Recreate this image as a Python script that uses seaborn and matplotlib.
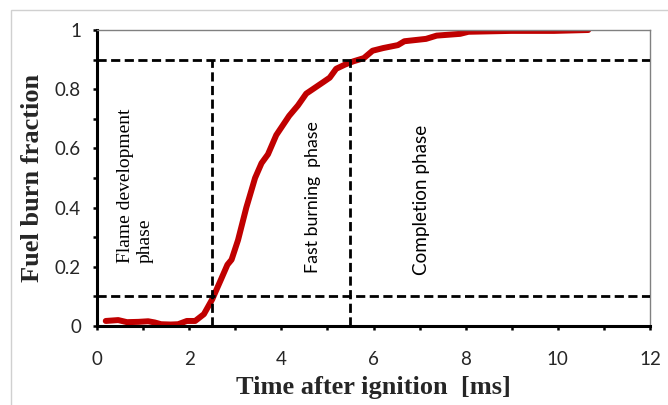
import matplotlib
matplotlib.use("Agg")
import matplotlib.pyplot as plt
import seaborn as sns
import pandas as pd
from matplotlib.ticker import MultipleLocator
from matplotlib.patches import Rectangle

# Data
time_ms = [0.19, 0.46, 0.65, 0.9, 1.11, 1.25, 1.39, 1.6, 1.76, 1.95, 2.13, 2.32, 2.5,
           2.69, 2.83, 2.92, 3.06, 3.24, 3.43, 3.57, 3.71, 3.89, 4.17, 4.36, 4.54,
           4.73, 4.91, 5.05, 5.19, 5.38, 5.56, 5.79, 5.98, 6.21, 6.53, 6.67, 7.14,
           7.37, 7.88, 8.06, 8.99, 9.92, 10.66]
burn_fraction = [0.017, 0.02, 0.013, 0.014, 0.016, 0.012, 0.006, 0.005, 0.006, 0.017, 0.017,
                 0.04, 0.09, 0.157, 0.207, 0.224, 0.29, 0.40, 0.50, 0.55, 0.58, 0.645,
                 0.71, 0.745, 0.785, 0.805, 0.824, 0.839, 0.869, 0.883, 0.894, 0.905,
                 0.93, 0.939, 0.949, 0.962, 0.970, 0.981, 0.987, 0.994, 0.997, 0.997, 1.0]
fraction_thresholds = [0.1, 0.9]
phase_boundaries = [2.5, 5.5]
phase_labels = ["Flame development\nphase", "Fast burning  phase", "Completion phase"]
phase_label_x = [0.84, 4.69, 7.05]
phase_label_y = [0.213, 0.179, 0.172]
x_ticks = [0, 2, 4, 6, 8, 10, 12]
y_ticks = [0, 0.2, 0.4, 0.6, 0.8, 1.0]
y_tick_labels = ["0", "0.2", "0.4", "0.6", "0.8", "1"]

df = pd.DataFrame({"t": time_ms, "f": burn_fraction})

sns.set_theme(style="white")
plt.rcParams["font.family"] = ["Lato", "DejaVu Sans"]

fig = plt.figure(figsize=(6.68, 4.05), dpi=100)
ax = fig.add_axes([97/668, 1-326/405, (650-97)/668, (326-30)/405])

# figure border like the Excel chart area
fig.patches.append(Rectangle((11/668, -0.1), 1.2, 1-10/405+0.1, transform=fig.transFigure,
                             fill=False, edgecolor="#d0d0d0", linewidth=1.0))

sns.lineplot(data=df, x="t", y="f", ax=ax, color="#C00000", linewidth=4.3,
             solid_capstyle="round", solid_joinstyle="round", zorder=2)

dash_kw = dict(color="black", linewidth=2.0, dashes=(3.3, 1.6), zorder=3)
for yv in fraction_thresholds:
    ax.axhline(yv, xmin=0, xmax=1, **dash_kw)
for xv in phase_boundaries:
    ax.plot([xv, xv], [0, fraction_thresholds[1]], **dash_kw)

ax.set_xlim(0, 12)
ax.set_ylim(0, 1)
ax.set_xticks(x_ticks)
ax.set_xticklabels([str(v) for v in x_ticks])
ax.set_yticks(y_ticks)
ax.set_yticklabels(y_tick_labels)
ax.xaxis.set_minor_locator(MultipleLocator(1))
ax.yaxis.set_minor_locator(MultipleLocator(0.1))
ax.tick_params(axis="both", which="both", direction="out", length=3, width=1.8,
               color="black", labelsize=13.5, bottom=True, left=True)
ax.tick_params(axis="x", which="major", pad=15)
ax.tick_params(axis="y", which="major", pad=8.5)

for s in ["left", "bottom"]:
    ax.spines[s].set_color("black")
    ax.spines[s].set_linewidth(2.2)
for s in ["top", "right"]:
    ax.spines[s].set_color("#808080")
    ax.spines[s].set_linewidth(1.0)

ax.set_xlabel("Time after ignition  [ms]", fontsize=19, fontweight="bold",
              family="Liberation Serif", labelpad=6)
ax.set_ylabel("Fuel burn fraction", fontsize=19, fontweight="bold",
              family="Liberation Serif", labelpad=8)

families = ["Liberation Serif", "Lato", "Lato"]
sizes = [14, 12.8, 13.6]
for lab, xv, yv, fam, fs in zip(phase_labels, phase_label_x, phase_label_y, families, sizes):
    ax.text(xv, yv, lab, rotation=90, ha="center", va="bottom", multialignment="left",
            family=fam, fontsize=fs, color="black", zorder=4, linespacing=1.2)

fig.savefig("out.png", dpi=100)
